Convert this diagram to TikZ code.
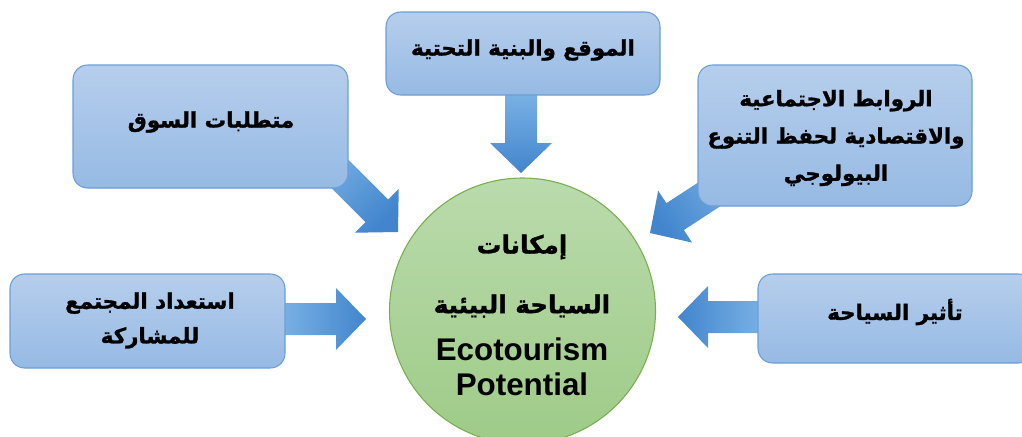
\documentclass[tikz,border=0pt]{standalone}
\usepackage{fontspec}
\setmainfont{Liberation Sans}
\newfontfamily\arabicfont[Script=Arabic, FakeBold=1.3]{DejaVu Sans Bold}
\TeXXeTstate=1
\usetikzlibrary{calc}

\definecolor{boxtop}{RGB}{182,206,236}
\definecolor{boxbot}{RGB}{150,186,228}
\definecolor{boxline}{RGB}{108,158,214}
\definecolor{circtop}{RGB}{186,219,172}
\definecolor{circbot}{RGB}{158,203,136}
\definecolor{circline}{RGB}{118,175,78}
\definecolor{arrlight}{RGB}{122,178,229}
\definecolor{arrdark}{RGB}{66,133,205}

\tikzset{
  pbox/.style={draw=boxline, line width=0.8pt, rounded corners=11pt,
    top color=boxtop, bottom color=boxbot, inner sep=0pt},
  hub/.style={circle, draw=circline, line width=0.8pt, top color=circtop,
    bottom color=circbot, minimum size=199.5pt, inner sep=0pt},
  artext/.style={font=\arabicfont\fontsize{16}{28}\selectfont,
    inner sep=0pt, align=center},
  hubar/.style={font=\arabicfont\fontsize{18.5}{28}\selectfont,
    inner sep=0pt, align=center},
  latext/.style={font=\bfseries\fontsize{23.5}{26}\selectfont, inner sep=0pt},
  barrow/.style={draw=none, top color=arrdark, bottom color=arrlight},
}

% block arrow from tail #1 to tip #2, shading angle #3
\newcommand\blockarrow[3]{%
  \coordinate (#1h) at ($(#2)!22.5pt!(#1)$);
  \path[barrow, shading angle=#3]
    ($(#1)!12pt!90:(#2)$) -- ($(#1h)!12pt!90:(#2)$) --
    ($(#1h)!23.25pt!90:(#2)$) -- (#2) --
    ($(#1h)!23.25pt!-90:(#2)$) -- ($(#1h)!12pt!-90:(#2)$) --
    ($(#1)!12pt!-90:(#2)$) -- cycle;
}

\begin{document}
\begin{tikzpicture}[x=0.75pt, y=-0.75pt]
\useasboundingbox (0,0) rectangle (1022,436);
\clip (0,0) rectangle (1022,436);

% hub
\node[hub] (hub) at (522.5,311) {};

% arrow end points
\coordinate (a1t) at (521,92);
\coordinate (a1p) at (521,173);
\coordinate (a2t) at (320,154);
\coordinate (a2p) at (398,232);
\coordinate (a3t) at (742,173);
\coordinate (a3p) at (650,233);
\coordinate (a4t) at (280,319);
\coordinate (a4p) at (366,319);
\coordinate (a5t) at (765,317);
\coordinate (a5p) at (678,317);

\blockarrow{a1t}{a1p}{180}
\blockarrow{a2t}{a2p}{-135}
\blockarrow{a3t}{a3p}{123}
\blockarrow{a4t}{a4p}{-90}
\blockarrow{a5t}{a5p}{90}

% boxes
\node[pbox, minimum width=205.5pt, minimum height=62.25pt] (b1) at (523,53.5) {};
\node[pbox, minimum width=206.25pt, minimum height=92.25pt] (b2) at (210.5,126.5) {};
\node[pbox, minimum width=205.5pt, minimum height=105.75pt] (b3) at (835,135.5) {};
\node[pbox, minimum width=206.25pt, minimum height=70.5pt] (b4) at (147.5,321) {};
\node[pbox, minimum width=206.25pt, minimum height=66.75pt] (b5) at (895.5,318.5) {};

% box texts
\node[artext] (t1) at (523,50) {\beginR الموقع والبنية التحتية\endR};
\node[artext] (t2) at (211,122) {\beginR متطلبات السوق\endR};
\node[artext] (t3) at (836,138) {\beginR الروابط الاجتماعية\endR\\
  \beginR والاقتصادية لحفظ التنوع\endR\\ \beginR البيولوجي\endR};
\node[artext, font=\arabicfont\fontsize{16}{26}\selectfont] (t4) at (150,320.5)
  {\beginR استعداد المجتمع\endR\\ \beginR للمشاركة\endR};
\node[artext] (t5) at (895,312) {\beginR تأثير السياحة\endR};

% hub texts
\node[hubar] (h1) at (522,247) {\beginR إمكانات\endR};
\node[hubar] (h2) at (522,306) {\beginR السياحة البيئية\endR};
\node[latext] (h3) at (522,349) {Ecotourism};
\node[latext] (h4) at (522,384) {Potential};
\end{tikzpicture}
\end{document}
